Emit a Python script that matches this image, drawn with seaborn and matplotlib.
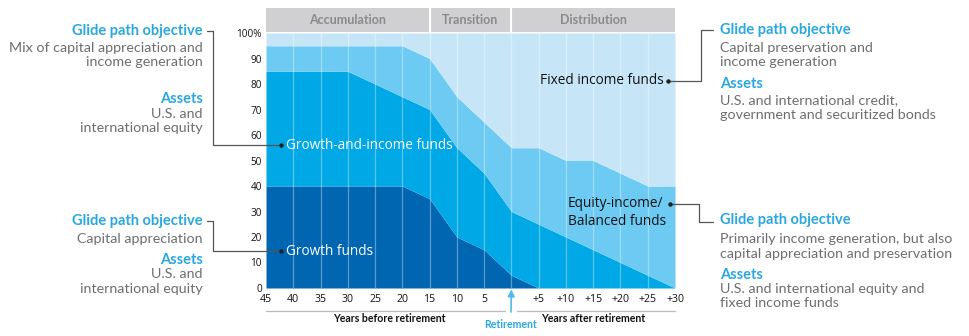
import numpy as np
import pandas as pd
import matplotlib
matplotlib.use("Agg")
import matplotlib.pyplot as plt
import seaborn as sns

# ---- data ----
years = [-45, -40, -35, -30, -25, -20, -15, -10, -5, 0, 5, 10, 15, 20, 25, 30]
tick_labels = ["45", "40", "35", "30", "25", "20", "15", "10", "5", "",
               "+5", "+10", "+15", "+20", "+25", "+30"]
growth = [40, 40, 40, 40, 40, 40, 35, 20, 15, 5, 0, 0, 0, 0, 0, 0]
growth_income = [45, 45, 45, 45, 40, 35, 35, 35, 30, 25, 25, 20, 15, 10, 5, 0]
equity_income = [10, 10, 10, 10, 15, 20, 20, 20, 20, 25, 30, 30, 35, 35, 35, 40]
fixed_income = [5, 5, 5, 5, 5, 5, 10, 25, 35, 45, 45, 50, 50, 55, 60, 60]
series_names = ["Growth funds", "Growth-and-income funds",
                "Equity-income/Balanced funds", "Fixed income funds"]
phases = ["Accumulation", "Transition", "Distribution"]
phase_bounds = [(-45, -15), (-15, 0), (0, 30)]
yticks = [0, 10, 20, 30, 40, 50, 60, 70, 80, 90, 100]
ytick_labels = ["0", "10", "20", "30", "40", "50", "60", "70", "80", "90", "100%"]

colors = ["#0066b2", "#00a8e6", "#6dcaf2", "#c6e6f8"]

df = pd.DataFrame({"year": years, series_names[0]: growth, series_names[1]: growth_income,
                   series_names[2]: equity_income, series_names[3]: fixed_income})

sns.set_theme(style="white")
plt.rcParams["font.family"] = ["Lato", "DejaVu Sans"]

fig = plt.figure(figsize=(9.7, 3.36), dpi=100)
ax = fig.add_axes([266 / 970, 48 / 336, 409 / 970, 255 / 336])

bottom = np.zeros(len(years))
for name, col in zip(series_names, colors):
    vals = df[name].to_numpy(dtype=float)
    ax.fill_between(df["year"], bottom, bottom + vals, color=col, linewidth=0)
    bottom = bottom + vals

for x in years[1:-1]:
    ax.axvline(x, color="white", alpha=0.35, lw=0.9)

ax.set_xlim(-45, 30)
ax.set_ylim(0, 100)
for s in ax.spines.values():
    s.set_visible(False)
ax.set_xticks(years)
ax.set_xticklabels(tick_labels, fontsize=7.6, color="#111111", family="Open Sans")
ax.set_yticks(yticks)
ax.set_yticklabels(ytick_labels, fontsize=7.2, color="#111111", family="Open Sans")
ax.tick_params(axis="both", length=0, pad=3)
ax.tick_params(axis="x", pad=4)

# header band
for (a, b), lab in zip(phase_bounds, phases):
    ax.fill_between([a, b], 100.5, 109.8, color="#d0d0d2", lw=0, clip_on=False)
    ax.text((a + b) / 2, 105.2, lab, ha="center", va="center", fontsize=9,
            fontweight="bold", color="#8a8a8a", clip_on=False)
for xb in [-15, 0]:
    ax.plot([xb, xb], [100.5, 109.8], color="white", lw=1.5, clip_on=False)

# in-chart labels
lab_font = dict(fontsize=9.8, family="Open Sans")
ax.text(-41.3, 55.8, "Growth-and-income funds", color="white", va="center", **lab_font)
ax.text(-41.3, 14.5, "Growth funds", color="white", va="center", **lab_font)
ax.text(28.0, 81.5, "Fixed income funds", color="#111111", ha="right", va="center", **lab_font)
ax.text(10.3, 29.5, "Equity-income/\nBalanced funds", color="#111111", ha="left", va="center",
        linespacing=1.3, **lab_font)

# connectors (figure pixel coordinates)
def fx(px):
    return px / 970

def fy(py):
    return 1 - py / 336

line_col = "#555555"
def poly(pts):
    fig.add_artist(plt.Line2D([fx(p[0]) for p in pts], [fy(p[1]) for p in pts],
                              color=line_col, lw=0.9, transform=fig.transFigure))

def dot(px, py):
    fig.add_artist(plt.Line2D([fx(px)], [fy(py)], marker="o", ms=2.2, color="#222222",
                              transform=fig.transFigure, lw=0))

poly([(207, 31), (213, 31), (213, 145), (280, 145)]); dot(281, 145)
poly([(207, 221), (213, 221), (213, 251), (280, 251)]); dot(281, 251)
poly([(669, 81), (701, 81), (701, 30), (713, 30)]); dot(668, 81)
poly([(671, 204), (699, 204), (699, 222), (713, 222)]); dot(670, 204)

blue = "#29a8e0"
gray = "#6d6e71"
def ftext(px, py, s, color, bold=False, ha="left"):
    fig.text(fx(px), fy(py), s, color=color, fontsize=10.5 if bold else 10.3,
             ha=ha, va="center", fontweight="bold" if bold else "normal")

# left annotations
ftext(203, 31, "Glide path objective", blue, True, "right")
ftext(203, 48, "Mix of capital appreciation and", gray, ha="right")
ftext(203, 62, "income generation", gray, ha="right")
ftext(203, 99, "Assets", blue, True, "right")
ftext(203, 114, "U.S. and", gray, ha="right")
ftext(203, 128, "international equity", gray, ha="right")

ftext(203, 221, "Glide path objective", blue, True, "right")
ftext(203, 239, "Capital appreciation", gray, ha="right")
ftext(203, 260, "Assets", blue, True, "right")
ftext(203, 274, "U.S. and", gray, ha="right")
ftext(203, 289, "international equity", gray, ha="right")

# right annotations
ftext(720, 30, "Glide path objective", blue, True)
ftext(720, 48, "Capital preservation and", gray)
ftext(720, 62, "income generation", gray)
ftext(720, 84, "Assets", blue, True)
ftext(720, 100, "U.S. and international credit,", gray)
ftext(720, 115, "government and securitized bonds", gray)

ftext(720, 220, "Glide path objective", blue, True)
ftext(720, 239, "Primarily income generation, but also", gray)
ftext(720, 254, "capital appreciation and preservation", gray)
ftext(720, 275, "Assets", blue, True)
ftext(720, 289, "U.S. and international equity and", gray)
ftext(720, 303, "fixed income funds", gray)

# bottom axis captions
poly_col = "#bbbbbb"
fig.add_artist(plt.Line2D([fx(266), fx(505)], [fy(311), fy(311)], color=poly_col, lw=0.9))
fig.add_artist(plt.Line2D([fx(517), fx(675)], [fy(311), fy(311)], color=poly_col, lw=0.9))
fig.text(fx(389), fy(319), "Years before retirement", ha="center", va="center",
         fontsize=7.6, fontweight="bold", color="#111111")
fig.text(fx(593), fy(319), "Years after retirement", ha="center", va="center",
         fontsize=7.6, fontweight="bold", color="#111111")
fig.text(fx(511), fy(325), "Retirement", ha="center", va="center",
         fontsize=7.6, fontweight="bold", color=blue)
ax.annotate("", xy=(0, 0), xycoords="data", xytext=(fx(511), fy(312)),
            textcoords="figure fraction",
            arrowprops=dict(arrowstyle="-|>", color="#4fbbea", lw=1.2,
                            mutation_scale=10, shrinkA=0, shrinkB=1))

fig.savefig("out.png", dpi=100, facecolor="white")
